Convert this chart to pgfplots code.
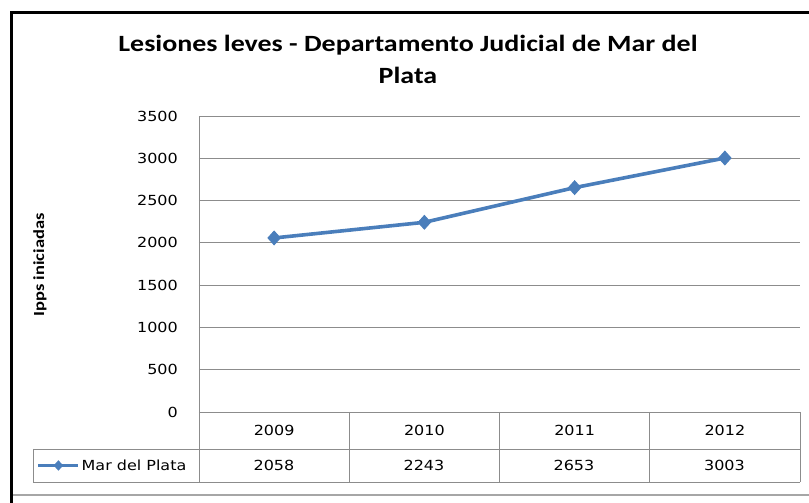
\documentclass[border=0pt]{standalone}
\usepackage{fontspec}
\setmainfont{Carlito}[FakeStretch=1.2]
\newfontfamily\dv{DejaVu Sans}[FakeStretch=1.15]
\usepackage{pgfplots}
\pgfplotsset{compat=1.18}
\definecolor{serie}{HTML}{4A7EBB}
\definecolor{rejilla}{HTML}{8C8C8C}
\newcommand{\tabfont}{\dv\fontsize{13.9}{16}\selectfont}

\begin{document}
\begin{tikzpicture}[x=1pt,y=1pt]
\path[use as bounding box] (0,0) rectangle (809,503);
% marco del grafico
\draw[black, line width=3.5pt, line join=miter] (11.3,0) -- (11.3,490.3) -- (809,490.3);
\draw[gray!70, line width=1.2pt] (13,8) -- (809,8);

\begin{axis}[
    at={(199pt,91pt)}, anchor=south west,
    scale only axis, width=601pt, height=296pt,
    xmin=0, xmax=4, ymin=0, ymax=3500,
    ytick={0,500,...,3500},
    xtick={0.5,1.5,2.5,3.5},
    xticklabels={2009,2010,2011,2012},
    axis line style={draw=none},
    major tick length=0pt,
    ymajorgrids, grid style={rejilla, line width=0.9pt},
    /pgf/number format/1000 sep={},
    /pgf/number format/assume math mode=true,
    yticklabel style={font=\tabfont, anchor=east, inner sep=0pt, xshift=-21pt},
    xticklabel style={font=\tabfont, anchor=center, inner sep=0pt, yshift=-18.5pt},
    clip=false,
    legend style={at={(axis description cs:-0.2696,-0.1807)}, anchor=west,
        draw=none, fill=none, inner sep=0pt, font=\tabfont},
    legend image code/.code={
        \draw[#1, line width=2.5pt, mark size=4.5pt, mark repeat=2, mark phase=2]
            plot coordinates {(0pt,0pt) (20pt,0pt) (40pt,0pt)};
    },
]
\draw[rejilla, line width=0.9pt] (rel axis cs:0,0) -- (rel axis cs:0,1);
\addplot[serie, line width=3.6pt, mark=diamond*, mark size=6.8pt,
    mark options={solid, fill=serie, xscale=1.2, line width=1pt}]
    coordinates {(0.5,2058) (1.5,2243) (2.5,2653) (3.5,3003)};
\addlegendentry{Mar del Plata}
\end{axis}

% tabla de datos
\draw[rejilla, line width=0.9pt] (33,54) -- (800,54) (33,21) -- (800,21) (33,54) -- (33,21);
\foreach \x in {199,349,499,649,800} \draw[rejilla, line width=0.9pt] (\x,91) -- (\x,21);
\node[font=\tabfont] at (274,37.5) {2058};
\node[font=\tabfont] at (424,37.5) {2243};
\node[font=\tabfont] at (574,37.5) {2653};
\node[font=\tabfont] at (724.5,37.5) {3003};

% titulo y etiqueta
\node[font=\bfseries\fontsize{23.3}{32}\selectfont, align=center] at (408,444) {Lesiones leves - Departamento Judicial de Mar del\\Plata};
\node[font=\bfseries\fontsize{15.4}{18}\selectfont, rotate=90] at (40,238) {Ipps iniciadas};
\end{tikzpicture}
\end{document}
